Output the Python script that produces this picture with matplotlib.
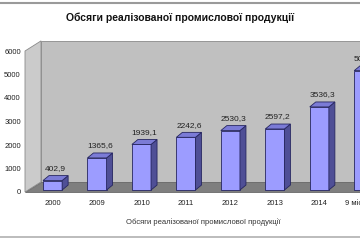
import matplotlib.pyplot as plt
from matplotlib.patches import Polygon
from matplotlib.lines import Line2D

plt.rcParams['font.family'] = ['Liberation Sans', 'DejaVu Sans']

categories = ["2000", "2009", "2010", "2011", "2012", "2013", "2014", "9 міс. 2015"]
values = [402.9, 1365.6, 1939.1, 2242.6, 2530.3, 2597.2, 3536.3, 5080.0]
value_labels = ["402,9", "1365,6", "1939,1", "2242,6", "2530,3", "2597,2", "3536,3", "5080,0"]
yticks = [0, 1000, 2000, 3000, 4000, 5000, 6000]
title = "Обсяги реалізованої промислової продукції"
axis_label = "Обсяги реалізованої промислової продукції"

W, H = 360, 240
fig = plt.figure(figsize=(3.6, 2.4), dpi=100)
fig.patch.set_facecolor("white")

# axes extends past the right edge so the last bar is cut like in the source
x0, x1, yb, yt = 25, 386, 192, 51
ax = fig.add_axes([x0 / W, 1 - yb / H, (x1 - x0) / W, (yb - yt) / H])
ax.set_xlim(-0.62, 7.5)
ax.set_ylim(0, 6000)
for s in ax.spines.values():
    s.set_visible(False)
ax.patch.set_visible(False)

# depth offsets (data units)
wdx, wdy = 0.36, 430   # walls / floor
bdx, bdy = 0.135, 210  # bars
xl, xr = -0.62, 8.0
top = 6000

edge_c = "#8a8a8a"
# back wall
ax.add_patch(Polygon([(xl + wdx, wdy), (xr, wdy), (xr, top + wdy), (xl + wdx, top + wdy)],
                     closed=True, fc="#c0c0c0", ec=edge_c, lw=0.6, clip_on=False, zorder=1))
# left side wall
ax.add_patch(Polygon([(xl, 0), (xl + wdx, wdy), (xl + wdx, top + wdy), (xl, top)],
                     closed=True, fc="#cbcbcb", ec=edge_c, lw=0.6, clip_on=False, zorder=1))
# floor
ax.add_patch(Polygon([(xl, 0), (xr, 0), (xr, wdy), (xl + wdx, wdy)],
                     closed=True, fc="#7f7f7f", ec="#6a6a6a", lw=0.6, clip_on=False, zorder=2))

front_c, top_c, side_c, line_c = "#9c9cff", "#7b7bd6", "#4f4f96", "#262660"
bw = 0.215
base = 85
for i, v in enumerate(values):
    l, r = i - bw, i + bw
    b, t = base, base + v
    ax.add_patch(Polygon([(l, b), (r, b), (r, t), (l, t)], closed=True,
                         fc=front_c, ec=line_c, lw=0.6, clip_on=False, zorder=3))
    ax.add_patch(Polygon([(r, b), (r + bdx, b + bdy), (r + bdx, t + bdy), (r, t)], closed=True,
                         fc=side_c, ec=line_c, lw=0.6, clip_on=False, zorder=3))
    ax.add_patch(Polygon([(l, t), (r, t), (r + bdx, t + bdy), (l + bdx, t + bdy)], closed=True,
                         fc=top_c, ec=line_c, lw=0.6, clip_on=False, zorder=3))
    ax.text(i + bdx / 2, t + bdy + 150, value_labels[i], ha="center", va="bottom",
            fontsize=6, color="#222222", zorder=4)

ax.set_yticks(yticks)
ax.set_yticklabels([str(t) for t in yticks], fontsize=5.5, color="#222222")
ax.set_xticks(range(len(categories)))
ax.set_xticklabels(categories, fontsize=5.5, color="#222222")
ax.tick_params(axis="y", length=0, pad=3)
ax.tick_params(axis="x", length=0, pad=6)

fig.text(180 / W, 1 - 18 / H, title, ha="center", va="center",
         fontsize=7.5, fontweight="bold", color="#111111")
fig.text(203 / W, 1 - 222 / H, axis_label, ha="center", va="center",
         fontsize=5.5, color="#333333")

fig.add_artist(Line2D([0, 1], [1 - 3 / H, 1 - 3 / H], color="#9a9a9a", lw=1.5))
fig.add_artist(Line2D([0, 1], [1 - 237 / H, 1 - 237 / H], color="#b0b0b0", lw=1.2))

fig.savefig("out.png", dpi=100)
